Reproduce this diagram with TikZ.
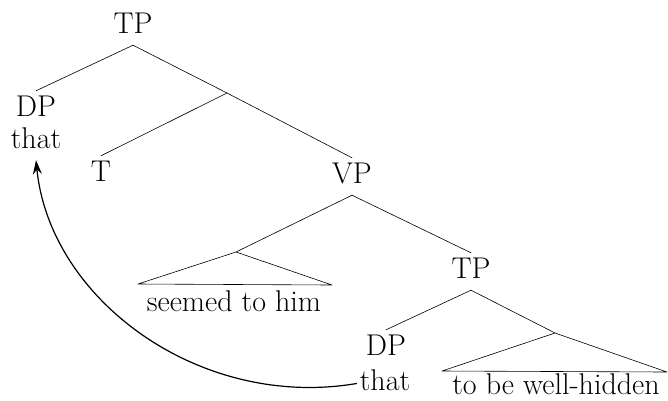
\documentclass[tikz,border=0pt]{standalone}
\usepackage{fontspec}
\usepackage{tikz}
\usetikzlibrary{arrows.meta}

\tikzset{
	lbl/.style={font=\fontsize{30}{34}\selectfont, inner xsep=3pt, inner ysep=7pt, text height=18pt, text depth=5pt, anchor=base},
	leaf/.style={font=\fontsize{30}{34}\selectfont, inner sep=0pt, anchor=base},
	branch/.style={black, line width=0.6pt},
}

\begin{document}
\begin{tikzpicture}[line cap=round, line join=round, >={Stealth[length=14pt,width=9pt]}, x=1pt, y=-1pt]

		\useasboundingbox (0,0) rectangle (668,400);

		% upper part of the tree
		\node[lbl] (TPa) at (133,33) {TP};
		\node[lbl] (DPa) at (36,116) {DP};
		\node[lbl] (thata) at (36,148) {that};
		\node[lbl] (T) at (101,181) {T};
		\node[lbl] (VP) at (352,183) {VP};
		\coordinate (Xa) at (227,93);

		\draw [branch] (TPa.south)--(DPa.north);
		\draw [branch] (TPa.south)--(Xa);
		\draw [branch] (Xa)--(T.north);
		\draw [branch] (Xa)--(VP.north);

		% lower part of the tree
		\node[leaf] (seemed) at (234,311) {seemed to him};
		\node[lbl] (TPb) at (471,278) {TP};
		\node[lbl] (DPb) at (386,355) {DP};
		\node[lbl] (thatb) at (385,390) {that};
		\node[leaf] (hidden) at (556,394) {to be well-hidden};
		\coordinate (Xb) at (236,252);
		\coordinate (Xc) at (555,333);

		% triangle corners
		\coordinate (Lb) at (138,284);
		\coordinate (Rb) at (332,285);
		\coordinate (Lc) at (442,371);
		\coordinate (Rc) at (667,372);

		\draw [branch] (VP.south)--(Xb);
		\draw [branch] (VP.south)--(TPb.north);
		\draw [branch] (Xb)--(Lb)--(Rb)--cycle;
		\draw [branch] (TPb.south)--(DPb.north);
		\draw [branch] (TPb.south)--(Xc);
		\draw [branch] (Xc)--(Lc)--(Rc)--cycle;

		% movement arrow
		\draw [->,black,line width=1.2pt] (thatb.west) .. controls (200,410) and (50,300) .. (thata.south);
\end{tikzpicture}
\end{document}
